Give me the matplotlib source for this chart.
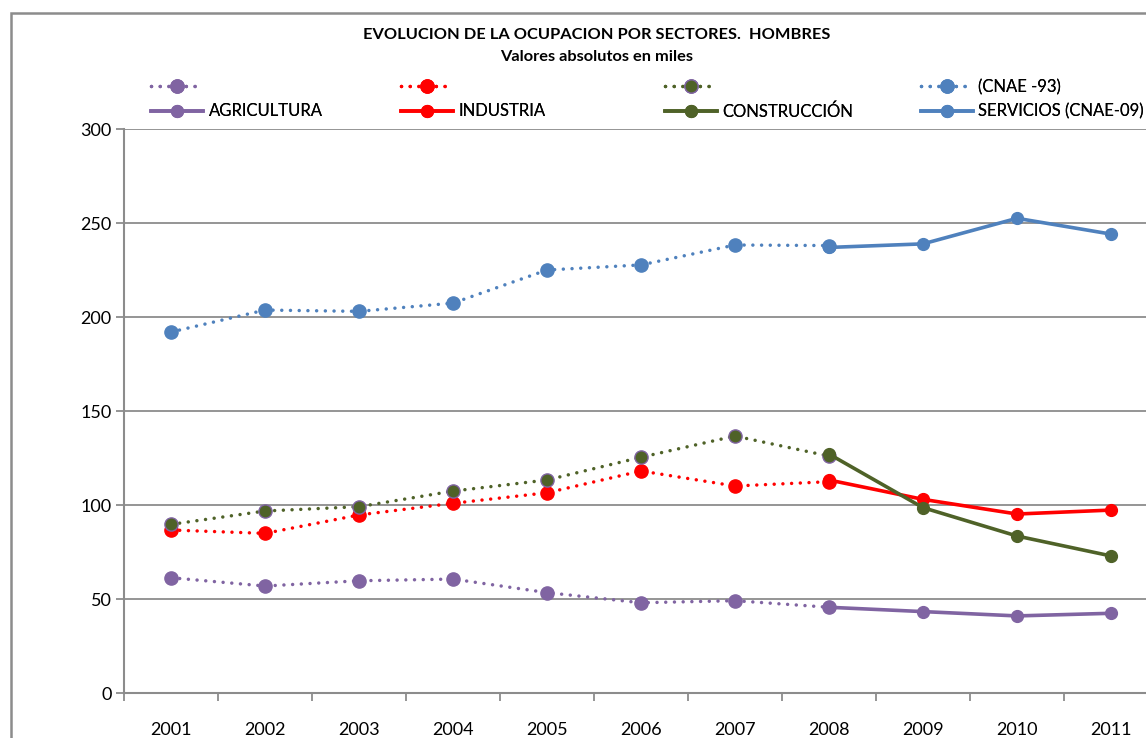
import numpy as np
import matplotlib
matplotlib.use("Agg")
import matplotlib.pyplot as plt
from matplotlib.patches import Rectangle

plt.rcParams['font.family'] = ['Lato', 'DejaVu Sans']

# datos (miles)
years = ['2001', '2002', '2003', '2004', '2005', '2006', '2007', '2008', '2009', '2010', '2011']
nan = np.nan

# CNAE-93: 2001-2008
agricultura_93 = [61.3, 56.9, 59.7, 60.6, 53.4, 48.0, 49.1, 45.6, nan, nan, nan]
industria_93 = [86.7, 84.9, 94.7, 100.9, 106.5, 118.1, 110.1, 112.4, nan, nan, nan]
construccion_93 = [89.7, 96.8, 99.1, 107.4, 113.3, 125.4, 136.7, 126.0, nan, nan, nan]
servicios_93 = [192.0, 203.7, 203.0, 207.4, 225.0, 227.7, 238.3, 238.0, nan, nan, nan]

# CNAE-09: 2008-2011
agricultura_09 = [nan, nan, nan, nan, nan, nan, nan, 45.6, 43.3, 41.0, 42.4]
industria_09 = [nan, nan, nan, nan, nan, nan, nan, 113.3, 103.0, 95.2, 97.3]
construccion_09 = [nan, nan, nan, nan, nan, nan, nan, 127.1, 98.6, 83.5, 72.9]
servicios_09 = [nan, nan, nan, nan, nan, nan, nan, 237.0, 238.9, 252.5, 244.1]

labels_93 = ['', '', '', '(CNAE -93)']
labels_09 = ['AGRICULTURA', 'INDUSTRIA', 'CONSTRUCCIÓN', 'SERVICIOS (CNAE-09)']
colores = ['#8064A2', '#FF0000', '#4F6228', '#4F81BD']
bordes_93 = ['#8064A2', '#FF0000', '#8064A2', '#4F81BD']

series_93 = [agricultura_93, industria_93, construccion_93, servicios_93]
series_09 = [agricultura_09, industria_09, construccion_09, servicios_09]

fig = plt.figure(figsize=(11.46, 7.38), dpi=100)
ax = fig.add_axes([124 / 1146, 45 / 738, 1034 / 1146, 564 / 738])

x = np.arange(len(years))
handles = []
for s93, s09, c, e in zip(series_93, series_09, colores, bordes_93):
    h1, = ax.plot(x, s93, linestyle=(0, (0.01, 2.5)), dash_capstyle='round', lw=2.5, color=c,
                  marker='o', markersize=9.5, markerfacecolor=c, markeredgecolor=e,
                  markeredgewidth=1, zorder=3)
    h2, = ax.plot(x, s09, linestyle='-', lw=2.6, color=c, marker='o', markersize=8.5,
                  markerfacecolor=c, markeredgecolor=c, zorder=3)
    handles.append((h1, h2))

ax.set_xlim(-0.5, len(years) - 0.5)
ax.set_ylim(0, 300)
ax.set_yticks(np.arange(0, 301, 50))
ax.yaxis.grid(True, color='#8C8C8C', lw=1.3)
ax.set_axisbelow(True)

ax.set_xticks(x)
ax.set_xticklabels(years)
ax.set_xticks(np.arange(-0.5, len(years), 1), minor=True)
ax.tick_params(axis='x', which='major', length=0, pad=21, labelsize=13)
ax.tick_params(axis='x', which='minor', length=6, color='#8C8C8C', width=1.3, direction='out')
ax.tick_params(axis='y', length=6, color='#8C8C8C', width=1.3, labelsize=13, pad=3)

for sp in ['top', 'right']:
    ax.spines[sp].set_visible(False)
for sp in ['left', 'bottom']:
    ax.spines[sp].set_color('#8C8C8C')
    ax.spines[sp].set_linewidth(1.5)

# leyenda en cuatro columnas
col_x = [151, 401, 665, 921]
for (h1, h2), l93, l09, cx in zip(handles, labels_93, labels_09, col_x):
    leg = fig.legend([h1, h2], [l93, l09], loc='upper left',
                     bbox_to_anchor=(cx / 1146, 1 - 79 / 738), frameon=False,
                     fontsize=12, handlelength=3.1, handletextpad=0.35,
                     labelspacing=0.5, borderaxespad=0, borderpad=0)
    fig.add_artist(leg)

fig.text(597 / 1146, 1 - 35 / 738, 'EVOLUCION DE LA OCUPACION POR SECTORES.  HOMBRES',
         ha='center', va='center', fontsize=11.8, fontweight='bold')
fig.text(597 / 1146, 1 - 57 / 738, 'Valores absolutos en miles',
         ha='center', va='center', fontsize=11.8, fontweight='bold')

# borde del area del grafico
fig.patches.append(Rectangle((10.5 / 1146, -0.1), 1.2, 1.1 - 13.5 / 738, transform=fig.transFigure,
                             fill=False, edgecolor='#8C8C8C', lw=1.8))

fig.savefig('out.png', dpi=100)
